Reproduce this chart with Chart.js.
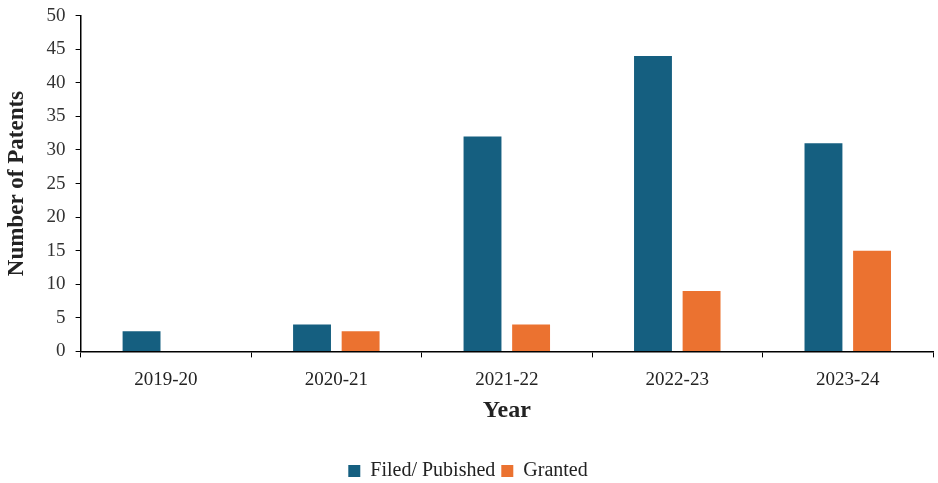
<!DOCTYPE html>
<html>
<head>
<meta charset="utf-8">
<script src="https://cdn.jsdelivr.net/npm/chart.js@4"></script>
<style>
  html, body { margin: 0; padding: 0; background: #fff; }
  #wrap { width: 938px; height: 483px; }
</style>
</head>
<body>
<div id="wrap"><canvas id="graph"></canvas></div>
<script>
var years = ['2019-20', '2020-21', '2021-22', '2022-23', '2023-24'];
var filed = [3, 4, 32, 44, 31];
var granted = [0, 3, 4, 9, 15];

var serif = '"Liberation Serif", "DejaVu Serif", serif';

var data = {
  labels: years,
  datasets: [{
    label: 'Filed/ Pubished',
    backgroundColor: '#155f80',
    data: filed,
    categoryPercentage: 0.57,
    barPercentage: 0.78
  }, {
    label: 'Granted',
    backgroundColor: '#eb7230',
    data: granted,
    categoryPercentage: 0.57,
    barPercentage: 0.78
  }]
};

var config = {
  type: 'bar',
  data: data,
  options: {
    responsive: true,
    maintainAspectRatio: false,
    animation: false,
    layout: { padding: { left: 3, right: 5, top: 0, bottom: -8 } },
    plugins: {
      tooltip: { enabled: false },
      legend: {
        position: 'bottom',
        labels: {
          font: { family: serif, size: 20 },
          color: '#222',
          boxWidth: 12,
          boxHeight: 12,
          padding: 6
        }
      }
    },
    scales: {
      x: {
        offset: true,
        grid: {
          offset: true,
          drawOnChartArea: false,
          drawTicks: true,
          tickLength: 6,
          color: '#000'
        },
        border: { color: '#000', width: 1.5 },
        ticks: {
          font: { family: serif, size: 19 },
          color: '#222',
          padding: 11
        },
        title: {
          display: true,
          text: 'Year',
          font: { family: serif, size: 24, weight: 'bold' },
          color: '#222',
          padding: { top: -6, bottom: 30 }
        }
      },
      y: {
        min: 0,
        max: 50,
        ticks: {
          stepSize: 5,
          font: { family: serif, size: 19, lineHeight: 0.6 },
          color: '#333',
          padding: 10
        },
        grid: {
          drawOnChartArea: false,
          drawTicks: true,
          tickLength: 5,
          color: '#000'
        },
        border: { color: '#000', width: 1.5 },
        title: {
          display: true,
          text: 'Number of Patents',
          font: { family: serif, size: 23, weight: 'bold' },
          color: '#222',
          padding: { top: 0, bottom: 6 }
        }
      }
    }
  }
};

var graph = new Chart(document.getElementById('graph'), config);
</script>
</body>
</html>
